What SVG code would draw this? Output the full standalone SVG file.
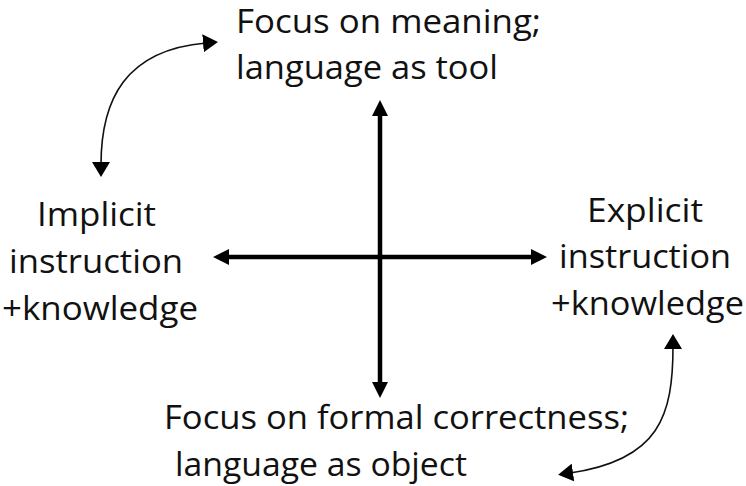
<svg xmlns="http://www.w3.org/2000/svg" width="746" height="486" viewBox="0 0 746 486">
  <defs>
    <marker id="thick" markerUnits="userSpaceOnUse" markerWidth="16" markerHeight="16" refX="6" refY="8" orient="auto-start-reverse">
      <path d="M0,0 L16,8 L0,16 z" fill="#000"/>
    </marker>
    <marker id="thin" markerUnits="userSpaceOnUse" markerWidth="16" markerHeight="18" refX="3" refY="9" orient="auto-start-reverse">
      <path d="M0,0 L15,9 L0,18 z" fill="#000"/>
    </marker>
    <style>
      text { font-family: "Open Sans", "Noto Sans", sans-serif; font-size: 32px; fill: #111; }
      .axis { stroke: #000; stroke-width: 4.5; fill: none; marker-start: url(#thick); marker-end: url(#thick); }
      .curve { stroke: #111; stroke-width: 1.6; fill: none; marker-start: url(#thin); marker-end: url(#thin); }
    </style>
  </defs>
  <rect width="746" height="486" fill="#fff"/>
  <g id="connectors">
    <path class="axis" d="M223,257 L537,257"/>
    <path class="axis" d="M380,110 L380,388"/>
    <path class="curve" d="M101,165 C101,100 125,50 206,43"/>
    <path class="curve" d="M673,346 C673,415 660,460 570,473"/>
  </g>
  <g id="top">
    <text x="236" y="33" textLength="305" lengthAdjust="spacingAndGlyphs">Focus on meaning;</text>
    <text x="236" y="79" textLength="262" lengthAdjust="spacingAndGlyphs">language as tool</text>
  </g>
  <g id="left">
    <text x="37" y="226" textLength="119" lengthAdjust="spacingAndGlyphs">Implicit</text>
    <text x="9" y="273" textLength="174" lengthAdjust="spacingAndGlyphs">instruction</text>
    <text x="2" y="320" textLength="196" lengthAdjust="spacingAndGlyphs">+knowledge</text>
  </g>
  <g id="right">
    <text x="587" y="222" textLength="116" lengthAdjust="spacingAndGlyphs">Explicit</text>
    <text x="559" y="268" textLength="172" lengthAdjust="spacingAndGlyphs">instruction</text>
    <text x="551" y="315" textLength="193" lengthAdjust="spacingAndGlyphs">+knowledge</text>
  </g>
  <g id="bottom">
    <text x="164" y="429" textLength="465" lengthAdjust="spacingAndGlyphs">Focus on formal correctness;</text>
    <text x="175" y="476" textLength="292" lengthAdjust="spacingAndGlyphs">language as object</text>
  </g>
</svg>
